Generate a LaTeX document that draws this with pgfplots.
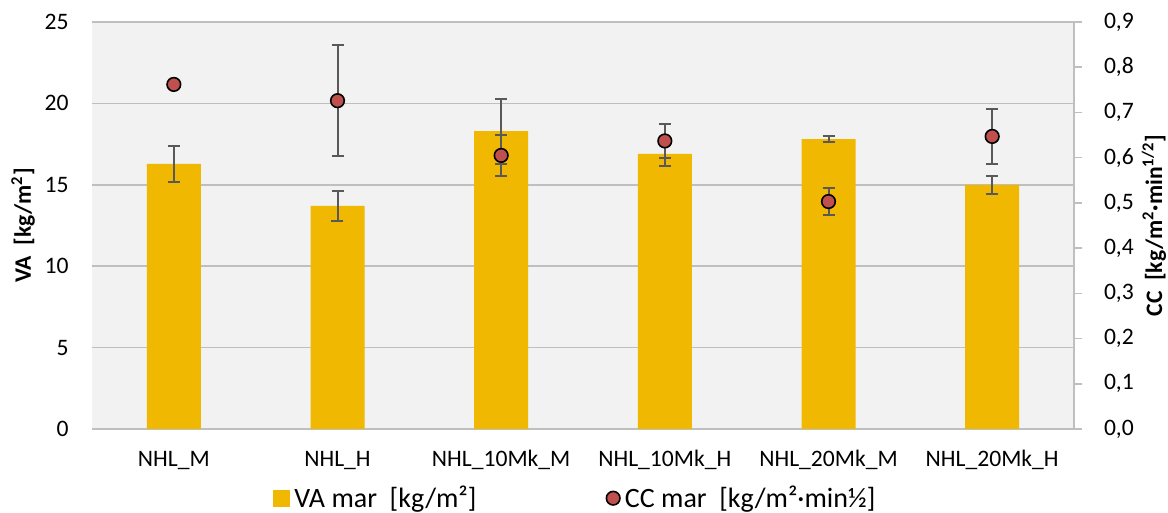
\documentclass[border=0pt]{standalone}
\usepackage{fontspec}
\setmainfont{Carlito}
\usepackage{pgfplots}
\pgfplotsset{compat=1.18}
\definecolor{barcol}{HTML}{F0B800}
\definecolor{dotcol}{HTML}{C0504D}
\definecolor{errcol}{HTML}{595959}
\definecolor{gridcol}{HTML}{BFBFBF}
\definecolor{bgcol}{HTML}{F2F2F2}
\newcommand{\fs}{\fontsize{11.8}{14}\selectfont}
\newcommand{\fl}{\fontsize{14}{16}\selectfont}
\begin{document}
\begin{tikzpicture}
\useasboundingbox (-46pt,-42pt) rectangle (538pt,214.5pt);
\begin{axis}[
  at={(0,0)}, anchor=south west,
  scale only axis, width=491pt, height=203.5pt,
  xmin=-0.5, xmax=5.5, ymin=0, ymax=25,
  xtick={0,1,2,3,4,5},
  xticklabels={NHL\_M,NHL\_H,NHL\_10Mk\_M,NHL\_10Mk\_H,NHL\_20Mk\_M,NHL\_20Mk\_H},
  ytick={0,5,10,15,20,25},
  axis line style={draw=none},
  tick style={draw=none},
  ymajorgrids, grid style={gridcol, line width=0.75pt},
  axis background/.style={fill=bgcol},
  /pgf/number format/assume math mode=true,
  tick label style={font=\fs},
  yticklabel style={anchor=east, inner sep=0pt, xshift=-11.5pt},
  xticklabel style={anchor=base, inner sep=0pt, yshift=-18.9pt},
  ylabel={\textbf{VA\ \ [kg/m\textsuperscript{2}]}},
  every axis y label/.style={at={(axis description cs:0,0.5)}, xshift=-34.5pt, rotate=90, anchor=center, font=\fs},
]
\addplot[ybar, bar width=27pt, fill=barcol, draw=none,
  error bars/.cd, y dir=both, y explicit,
  error bar style={errcol, line width=1pt},
  error mark options={rotate=90, errcol, mark size=3pt, line width=1pt}]
  coordinates {
  (0,16.28) +- (0,1.13)
  (1,13.70) +- (0,0.91)
  (2,18.30) +- (0,2.00)
  (3,16.90) +- (0,0.75)
  (4,17.81) +- (0,0.18)
  (5,15.00) +- (0,0.57)
  };
\end{axis}
\begin{axis}[
  at={(0,0)}, anchor=south west,
  scale only axis, width=491pt, height=203.5pt,
  xmin=-0.5, xmax=5.5, ymin=0, ymax=0.9,
  axis y line*=right, axis x line=none,
  ytick={0,0.1,0.2,0.3,0.4,0.5,0.6,0.7,0.8,0.9},
  y axis line style={gridcol, line width=0.75pt},
  ytick style={gridcol, line width=0.75pt},
  tick align=outside, major tick length=4pt,
  /pgf/number format/assume math mode=true,
  yticklabel style={font=\fs, anchor=west, inner sep=0pt, xshift=10.8pt,
    /pgf/number format/.cd, use comma, fixed, fixed zerofill, precision=1},
  ylabel={\textbf{CC\ \ [kg/m\textsuperscript{2}·min\textsuperscript{1/2}]}},
  every axis y label/.style={at={(axis description cs:1,0.5)}, xshift=40pt, rotate=90, anchor=center, font=\fs},
  legend columns=2,
  legend style={at={(axis description cs:0.4934,0)}, anchor=center, yshift=-34.6pt,
    draw=none, fill=none, font=\fl, inner sep=0pt,
    /tikz/every even column/.append style={column sep=62.5pt},
    nodes={inner sep=2.5pt}},
]
\addlegendimage{legend image code/.code={\fill[barcol] (0pt,-4pt) rectangle (8pt,4pt);}}
\addlegendentry{VA mar\ \ [kg/m²]}
\addplot[only marks, mark=*, mark size=3.4pt,
  mark options={fill=dotcol, draw=black, line width=0.8pt},
  error bars/.cd, y dir=both, y explicit,
  error bar style={errcol, line width=1pt},
  error mark options={rotate=90, errcol, mark size=3pt, line width=1pt}]
  coordinates {
  (0,0.762) +- (0,0)
  (1,0.726) +- (0,0.123)
  (2,0.605) +- (0,0.045)
  (3,0.637) +- (0,0.037)
  (4,0.503) +- (0,0.030)
  (5,0.647) +- (0,0.061)
  };
\addlegendentry{CC mar\ \ [kg/m²·min½]}
\end{axis}
\end{tikzpicture}
\end{document}
